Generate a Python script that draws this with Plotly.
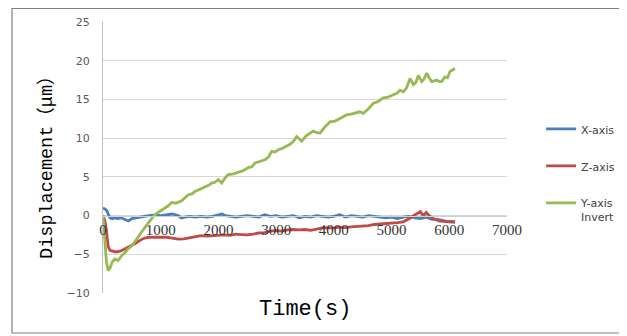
import plotly.graph_objects as go

# ---- data ----
x_t = [0, 30, 60, 90, 120, 160, 200, 260, 320, 380,
       440, 500, 560, 640, 720, 800, 900, 1000, 1100, 1200,
       1300, 1360, 1420, 1500, 1600, 1700, 1800, 1900, 2000, 2060,
       2120, 2200, 2300, 2400, 2500, 2600, 2700, 2800, 2900, 3000,
       3100, 3200, 3300, 3400, 3500, 3600, 3700, 3800, 3900, 4000,
       4100, 4200, 4300, 4400, 4500, 4600, 4700, 4800, 4900, 5000,
       5100, 5200, 5300, 5400, 5500, 5600, 5700, 5800, 5900, 6000,
       6100]
x_v = [1.0, 0.9, 0.7, 0.2, -0.3, -0.4, -0.3, -0.4, -0.3, -0.5,
       -0.7, -0.4, -0.3, -0.2, -0.1, 0.0, 0.1, 0.0, 0.1, 0.2,
       0.0, -0.3, -0.2, -0.1, -0.2, -0.1, -0.2, -0.1, 0.1, 0.2,
       0.0, -0.1, -0.2, -0.1, 0.0, -0.1, -0.2, 0.1, -0.1, 0.0,
       -0.2, -0.1, 0.0, -0.3, -0.1, -0.2, 0.0, -0.1, -0.2, -0.1,
       0.1, -0.2, 0.0, -0.1, -0.2, 0.0, -0.1, -0.2, -0.3, -0.2,
       -0.4, -0.2, -0.1, -0.3, -0.4, -0.2, -0.5, -0.5, -0.7, -0.8,
       -0.8]

z_t = [0, 30, 60, 90, 120, 160, 220, 300, 380, 440,
       500, 560, 640, 720, 800, 900, 1000, 1100, 1200, 1300,
       1400, 1500, 1600, 1700, 1800, 1900, 2000, 2100, 2200, 2300,
       2400, 2500, 2600, 2700, 2800, 2900, 3000, 3100, 3200, 3300,
       3400, 3500, 3600, 3700, 3800, 3900, 4000, 4100, 4200, 4300,
       4400, 4500, 4600, 4700, 4800, 4900, 5000, 5100, 5200,
       5260, 5320, 5380, 5440, 5500, 5550, 5600, 5650, 5700, 5760,
       5820, 5900, 6000, 6100]
z_v = [0.0, -0.6, -2.0, -4.0, -4.5, -4.6, -4.7, -4.6, -4.3, -4.1,
       -3.9, -3.6, -3.2, -2.9, -2.8, -2.8, -2.85, -2.8, -2.9, -3.05,
       -3.0, -2.85, -2.75, -2.6, -2.65, -2.6, -2.6, -2.5, -2.55, -2.4,
       -2.45, -2.5, -2.4, -2.25, -2.2, -2.0, -1.95, -2.0, -1.85, -1.8,
       -1.85, -1.8, -1.9, -1.75, -1.6, -1.55, -1.6, -1.5, -1.55, -1.45,
       -1.4, -1.35, -1.3, -1.15, -1.1, -1.05, -0.95, -0.9, -0.8,
       -0.6, -0.35, 0.0, 0.2, 0.5, -0.05, 0.4, 0.0, -0.3, -0.5,
       -0.7, -0.75, -0.8, -0.85]

y_t = [0, 30, 60, 90, 120, 160, 206, 260, 320, 380,
       433, 500, 550, 606, 660, 720, 780, 860, 953, 1045,
       1120, 1190, 1260, 1363, 1420, 1479, 1540, 1594, 1680, 1768,
       1830, 1883, 1940, 1998, 2056, 2110, 2171, 2260, 2345, 2430,
       2518, 2580, 2634, 2720, 2807, 2870, 2923, 2980, 3038, 3110,
       3182, 3240, 3300, 3355, 3442, 3520, 3580, 3644, 3700, 3760,
       3840, 3933, 4020, 4106, 4160, 4222, 4300, 4395, 4450, 4511,
       4600, 4684, 4760, 4857, 4940, 5031, 5090, 5146, 5204, 5260,
       5320, 5377, 5420, 5464, 5522, 5560, 5608, 5650, 5695, 5740,
       5782, 5830, 5868, 5925, 5970, 6012, 6060, 6099]
y_v = [0.0, -3.0, -6.0, -7.1, -6.8, -6.0, -5.6, -5.8, -5.2, -4.8,
       -4.3, -3.9, -3.3, -2.8, -2.2, -1.6, -0.9, -0.2, 0.4, 0.8,
       1.2, 1.7, 1.6, 1.9, 2.3, 2.7, 2.8, 3.1, 3.4, 3.7,
       3.9, 4.2, 4.3, 4.65, 4.2, 4.8, 5.3, 5.4, 5.6, 5.8,
       6.2, 6.3, 6.8, 7.0, 7.2, 7.6, 8.3, 8.2, 8.5, 8.7,
       9.0, 9.2, 9.6, 10.2, 9.6, 10.3, 10.6, 10.9, 10.7, 10.65,
       11.4, 12.1, 12.2, 12.5, 12.7, 13.0, 13.1, 13.3, 13.4, 13.2,
       13.8, 14.5, 14.7, 15.2, 15.3, 15.6, 15.8, 16.2, 16.0, 16.5,
       17.7, 16.9, 17.2, 18.1, 17.3, 17.6, 18.4, 17.8, 17.3, 17.4,
       17.5, 17.3, 17.3, 17.9, 17.8, 18.6, 18.8, 19.0]

series_names = ["X-axis", "Z-axis", "Y-axis<br>Invert"]
series_colors = ["#4a7ebb", "#be4b48", "#98b954"]

assert len(x_t) == len(x_v) and len(z_t) == len(z_v) and len(y_t) == len(y_v)

x_ticks = [0, 1000, 2000, 3000, 4000, 5000, 6000, 7000]
y_ticks = [-10, -5, 0, 5, 10, 15, 20, 25]

fig = go.Figure()
for i, (tt, vv) in enumerate([(x_t, x_v), (z_t, z_v), (y_t, y_v)]):
    fig.add_trace(go.Scatter(
        x=tt, y=vv, mode="lines", name=series_names[i],
        legendgroup=f"g{i}",
        line=dict(color=series_colors[i], width=2.8),
    ))

fig.update_layout(
    width=619, height=328,
    margin=dict(l=95, r=120, t=14, b=43, autoexpand=False),
    paper_bgcolor="white", plot_bgcolor="white",
    showlegend=True,
    legend=dict(
        x=1.0844, xanchor="left", y=0.656, yanchor="top",
        font=dict(family="DejaVu Sans", size=11, color="#404040"),
        tracegroupgap=18, valign="top", bgcolor="rgba(0,0,0,0)",
    ),
    xaxis=dict(
        range=[0, 7000], tickvals=x_ticks, anchor="free", position=10 / 35,
        showgrid=False, zeroline=False, showline=True, linecolor="#d0d0d0",
        linewidth=1, ticks="", automargin=False,
        tickfont=dict(family="Liberation Serif", size=15, color="#333333"),
    ),
    yaxis=dict(
        range=[-10, 25], tickvals=y_ticks, showgrid=True, gridcolor="#d9d9d9",
        zeroline=False, showline=True, linecolor="#bfbfbf", linewidth=1,
        ticks="", ticklabelstandoff=10, automargin=False,
        tickfont=dict(family="DejaVu Sans", size=11, color="#595959"),
    ),
    shapes=[dict(type="rect", xref="paper", yref="paper",
                 x0=-0.2252, x1=1.2847, y0=-0.1476, y1=1.0498,
                 line=dict(color="#808080", width=1.2), layer="above")],
    annotations=[
        dict(text="Time(s)", xref="paper", yref="paper", x=0.5, y=-0.061,
             xanchor="center", yanchor="middle", showarrow=False,
             font=dict(family="Liberation Mono", size=22, color="#000000")),
        dict(text="Displacement（μm）", xref="paper", yref="paper",
             x=-0.1386, y=0.48, xanchor="center", yanchor="middle",
             textangle=-90, showarrow=False,
             font=dict(family="Liberation Mono, Noto Sans CJK SC", size=18.5,
                       color="#000000")),
    ],
)

fig.write_html("out.html")
